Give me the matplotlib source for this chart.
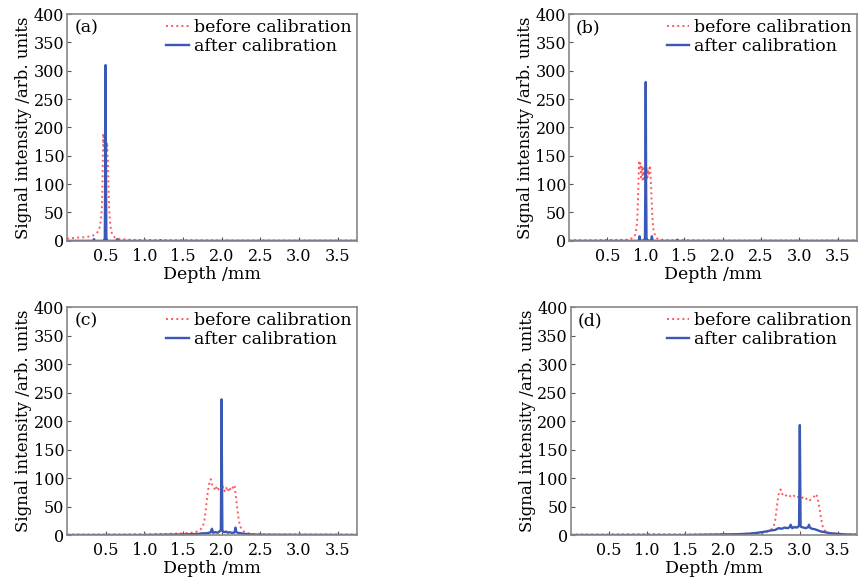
import matplotlib
matplotlib.use("Agg")
import matplotlib.pyplot as plt

plt.rcParams['font.family'] = ['DejaVu Serif']

# (a) focus at 0.5 mm
a_before_x = [0.00, 0.05, 0.10, 0.15, 0.20, 0.25, 0.30, 0.33, 0.36, 0.38, 0.40, 0.42, 0.43, 0.44, 0.45,
              0.455, 0.46, 0.465, 0.47, 0.475, 0.48, 0.485, 0.49, 0.495, 0.50, 0.505, 0.51, 0.515, 0.52,
              0.525, 0.53, 0.535, 0.54, 0.545, 0.55, 0.56, 0.57, 0.58, 0.60, 0.62, 0.65, 0.70, 0.75, 0.80,
              0.90, 1.00, 1.20, 1.40, 1.60, 1.80, 2.00, 2.50, 3.00, 3.50, 3.75]
a_before_y = [4, 5, 5, 6, 6, 7, 8, 9, 11, 13, 16, 22, 28, 38, 55,
              75, 105, 150, 190, 170, 185, 158, 180, 150, 176, 148, 172, 160, 174,
              150, 140, 110, 85, 62, 45, 30, 20, 14, 9, 6, 4, 3, 2.5, 2,
              1.5, 1.5, 1.2, 1, 1, 0.8, 0.6, 0.5, 0.5, 0.5, 0.5]
a_after_x = [0, 0.34, 0.35, 0.36, 0.48, 0.49, 0.495, 0.50, 0.505, 0.51, 0.52, 0.64, 0.65, 0.66,
             1.20, 1.21, 1.22, 3.75]
a_after_y = [0, 0, 3, 0, 0, 5, 120, 310, 120, 5, 0, 0, 3, 0, 0, 1, 0, 0]

# (b) focus at 1.0 mm
b_before_x = [0.0, 0.3, 0.6, 0.75, 0.80, 0.84, 0.86, 0.88, 0.89, 0.90, 0.91, 0.915, 0.92, 0.93, 0.94,
              0.95, 0.96, 0.97, 0.98, 0.99, 1.00, 1.01, 1.02, 1.03, 1.04, 1.05, 1.055, 1.06, 1.07, 1.08,
              1.09, 1.10, 1.12, 1.14, 1.17, 1.20, 1.30, 1.50, 2.0, 3.0, 3.75]
b_before_y = [1, 1, 1.5, 2, 3, 6, 10, 22, 40, 75, 125, 142, 128, 138, 112,
              132, 108, 128, 110, 126, 112, 128, 108, 126, 115, 130, 133, 122, 95, 60,
              35, 20, 9, 5, 3, 2, 1, 1, 0.5, 0.5, 0.5]
b_after_x = [0, 0.91, 0.92, 0.93, 0.98, 0.99, 0.995, 1.00, 1.005, 1.01, 1.02, 1.07, 1.08, 1.09,
             1.40, 1.41, 1.42, 3.75]
b_after_y = [0, 0, 8, 0, 1, 5, 100, 280, 100, 5, 1, 0, 8, 0, 0, 2, 0, 0]

# (c) focus at 2.0 mm
c_before_x = [0, 0.5, 1.0, 1.3, 1.5, 1.6, 1.65, 1.70, 1.73, 1.76, 1.78, 1.80, 1.82, 1.84, 1.86, 1.87,
              1.88, 1.90, 1.92, 1.94, 1.96, 1.98, 2.00, 2.02, 2.04, 2.06, 2.08, 2.10, 2.12, 2.14, 2.16,
              2.17, 2.18, 2.20, 2.22, 2.24, 2.27, 2.30, 2.35, 2.40, 2.50, 2.70, 3.0, 3.5, 3.75]
c_before_y = [1, 1, 1.5, 2, 3, 4, 5, 7, 10, 16, 28, 50, 75, 90, 98, 92,
              86, 84, 78, 86, 80, 84, 78, 85, 77, 83, 76, 84, 78, 82, 88,
              85, 72, 50, 28, 15, 8, 5, 3, 2, 1.5, 1, 1, 1, 1]
c_after_x = [0, 1.0, 1.5, 1.6, 1.7, 1.75, 1.80, 1.84, 1.86, 1.875, 1.89, 1.92, 1.95, 1.97, 1.98, 1.99,
             1.995, 2.00, 2.005, 2.01, 2.02, 2.04, 2.06, 2.08, 2.10, 2.13, 2.16, 2.17, 2.18, 2.19,
             2.21, 2.25, 2.30, 2.40, 2.50, 3.75]
c_after_y = [0, 0, 1, 1.5, 2, 3, 3, 4, 5, 11, 4, 5, 4, 6, 7, 8,
             100, 238, 100, 8, 6, 5, 6, 4, 5, 4, 4, 6, 13, 5,
             4, 3, 2, 1, 0.5, 0]

# (d) focus at 3.0 mm
d_before_x = [0, 0.5, 1.0, 1.5, 2.0, 2.3, 2.45, 2.55, 2.60, 2.63, 2.66, 2.68, 2.70, 2.72, 2.74, 2.75,
              2.76, 2.78, 2.80, 2.83, 2.86, 2.89, 2.92, 2.95, 2.98, 3.01, 3.04, 3.07, 3.10, 3.13, 3.16,
              3.19, 3.21, 3.22, 3.24, 3.26, 3.28, 3.30, 3.32, 3.35, 3.40, 3.50, 3.75]
d_before_y = [1, 1, 1.5, 1, 1.5, 2, 3, 5, 7, 10, 16, 28, 50, 70, 78, 80,
              74, 70, 72, 68, 70, 66, 69, 65, 67, 64, 66, 62, 65, 61, 64,
              68, 72, 70, 60, 45, 28, 15, 9, 5, 3, 2, 1]
d_after_x = [0, 1.5, 2.0, 2.2, 2.35, 2.45, 2.55, 2.62, 2.68, 2.72, 2.76, 2.80, 2.84, 2.87, 2.88, 2.90,
             2.93, 2.96, 2.98, 2.99, 2.995, 3.00, 3.005, 3.01, 3.02, 3.05, 3.08, 3.11, 3.12, 3.13,
             3.16, 3.20, 3.24, 3.28, 3.33, 3.40, 3.50, 3.60, 3.75]
d_after_y = [0, 0, 1, 1.5, 2.5, 4, 6, 8, 9, 12, 11, 13, 12, 14, 18, 12,
             14, 13, 15, 16, 100, 193, 100, 15, 14, 13, 12, 14, 18, 13,
             11, 10, 8, 6, 5, 3, 2, 1, 0.5]

panels = [
    ("(a)", a_before_x, a_before_y, a_after_x, a_after_y),
    ("(b)", b_before_x, b_before_y, b_after_x, b_after_y),
    ("(c)", c_before_x, c_before_y, c_after_x, c_after_y),
    ("(d)", d_before_x, d_before_y, d_after_x, d_after_y),
]
positions = [
    [0.078, 0.589, 0.338, 0.387],
    [0.663, 0.589, 0.336, 0.387],
    [0.078, 0.087, 0.338, 0.389],
    [0.665, 0.087, 0.334, 0.389],
]

fig = plt.figure(figsize=(8.58, 5.86), dpi=100)

for (tag, bx, by, ax_x, ax_y), pos in zip(panels, positions):
    ax = fig.add_axes(pos)
    ax.plot(bx, by, color='#ff5a5a', linestyle=':', linewidth=1.4, label='before calibration')
    ax.plot(ax_x, ax_y, color='#3a58b5', linewidth=1.7, label='after calibration')
    ax.set_xlim(0, 3.75)
    ax.set_ylim(0, 400)
    ax.set_xticks([0.5, 1.0, 1.5, 2.0, 2.5, 3.0, 3.5])
    ax.set_yticks(range(0, 401, 50))
    ax.tick_params(direction='in', length=3, width=0.8, color='#555555', labelsize=11.5)
    ax.tick_params(axis='x', pad=5)
    ax.tick_params(axis='y', pad=2)
    for s in ax.spines.values():
        s.set_color('#888888')
        s.set_linewidth(1.2)
    ax.set_xlabel('Depth /mm', fontsize=12.5, labelpad=1)
    ax.set_ylabel('Signal intensity /arb. units', fontsize=12, labelpad=1)
    ax.text(0.025, 0.975, tag, transform=ax.transAxes, fontsize=12.5, va='top', ha='left')
    ax.legend(loc='upper right', frameon=False, fontsize=12.5, handlelength=1.3,
              handletextpad=0.3, labelspacing=0.1, borderaxespad=0.1, borderpad=0.2)

fig.savefig('out.png', dpi=100)
